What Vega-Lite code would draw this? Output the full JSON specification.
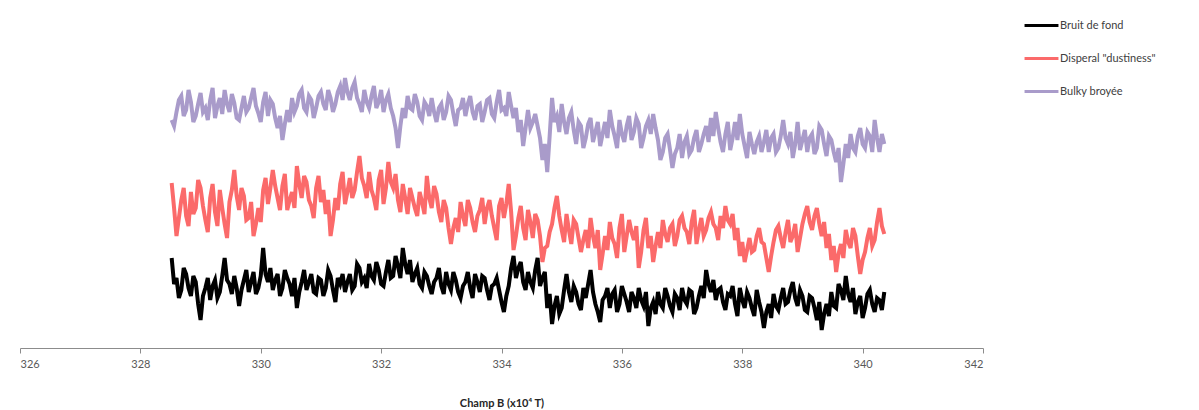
{
"$schema": "https://vega.github.io/schema/vega-lite/v6.json",
"width": 963, "height": 348,
"autosize": {"type": "none"},
"padding": {"left": 20, "top": 0, "right": 216, "bottom": 62},
"background": "white",
"config": {"view": {"stroke": null}, "font": "Lato"},
"datasets": {
"bruit": [
{"x":328.52,"y":90},{"x":328.56,"y":64},{"x":328.6,"y":70},{"x":328.64,"y":50},{"x":328.68,"y":58},{"x":328.72,"y":80},{"x":328.76,"y":74},{"x":328.8,"y":60},{"x":328.84,"y":52},{"x":328.88,"y":72},
{"x":328.92,"y":66},{"x":328.96,"y":44},{"x":329,"y":28},{"x":329.04,"y":52},{"x":329.08,"y":60},{"x":329.12,"y":70},{"x":329.16,"y":48},{"x":329.2,"y":62},{"x":329.24,"y":68},{"x":329.28,"y":50},
{"x":329.32,"y":56},{"x":329.36,"y":72},{"x":329.4,"y":90},{"x":329.44,"y":68},{"x":329.48,"y":64},{"x":329.52,"y":54},{"x":329.56,"y":72},{"x":329.6,"y":60},{"x":329.64,"y":42},{"x":329.68,"y":58},
{"x":329.72,"y":68},{"x":329.76,"y":78},{"x":329.8,"y":56},{"x":329.84,"y":66},{"x":329.88,"y":76},{"x":329.92,"y":54},{"x":329.96,"y":60},{"x":330,"y":72},{"x":330.04,"y":100},{"x":330.08,"y":74},
{"x":330.12,"y":66},{"x":330.16,"y":80},{"x":330.2,"y":58},{"x":330.24,"y":68},{"x":330.28,"y":74},{"x":330.32,"y":52},{"x":330.36,"y":60},{"x":330.4,"y":78},{"x":330.44,"y":70},{"x":330.48,"y":64},
{"x":330.52,"y":52},{"x":330.56,"y":70},{"x":330.6,"y":40},{"x":330.64,"y":56},{"x":330.68,"y":66},{"x":330.72,"y":78},{"x":330.76,"y":58},{"x":330.8,"y":66},{"x":330.84,"y":74},{"x":330.88,"y":56},
{"x":330.92,"y":54},{"x":330.96,"y":70},{"x":331,"y":68},{"x":331.04,"y":52},{"x":331.08,"y":60},{"x":331.12,"y":78},{"x":331.16,"y":72},{"x":331.2,"y":58},{"x":331.24,"y":46},{"x":331.28,"y":70},
{"x":331.32,"y":64},{"x":331.36,"y":74},{"x":331.4,"y":56},{"x":331.44,"y":66},{"x":331.48,"y":74},{"x":331.52,"y":58},{"x":331.56,"y":62},{"x":331.6,"y":84},{"x":331.64,"y":80},{"x":331.68,"y":66},
{"x":331.72,"y":70},{"x":331.76,"y":60},{"x":331.8,"y":84},{"x":331.84,"y":72},{"x":331.88,"y":68},{"x":331.92,"y":86},{"x":331.96,"y":78},{"x":332,"y":64},{"x":332.04,"y":62},{"x":332.08,"y":76},
{"x":332.12,"y":88},{"x":332.16,"y":70},{"x":332.2,"y":72},{"x":332.24,"y":92},{"x":332.28,"y":82},{"x":332.32,"y":70},{"x":332.36,"y":100},{"x":332.4,"y":84},{"x":332.44,"y":74},{"x":332.48,"y":88},
{"x":332.52,"y":66},{"x":332.56,"y":74},{"x":332.6,"y":80},{"x":332.64,"y":64},{"x":332.68,"y":60},{"x":332.72,"y":76},{"x":332.76,"y":72},{"x":332.8,"y":62},{"x":332.84,"y":54},{"x":332.88,"y":66},
{"x":332.92,"y":70},{"x":332.96,"y":80},{"x":333,"y":62},{"x":333.04,"y":54},{"x":333.08,"y":76},{"x":333.12,"y":64},{"x":333.16,"y":58},{"x":333.2,"y":76},{"x":333.24,"y":68},{"x":333.28,"y":56},
{"x":333.32,"y":50},{"x":333.36,"y":62},{"x":333.4,"y":66},{"x":333.44,"y":76},{"x":333.48,"y":60},{"x":333.52,"y":50},{"x":333.56,"y":74},{"x":333.6,"y":66},{"x":333.64,"y":56},{"x":333.68,"y":72},
{"x":333.72,"y":70},{"x":333.76,"y":58},{"x":333.8,"y":48},{"x":333.84,"y":62},{"x":333.88,"y":64},{"x":333.92,"y":70},{"x":333.96,"y":58},{"x":334,"y":46},{"x":334.04,"y":36},{"x":334.08,"y":52},
{"x":334.12,"y":62},{"x":334.16,"y":80},{"x":334.2,"y":92},{"x":334.24,"y":70},{"x":334.28,"y":80},{"x":334.32,"y":86},{"x":334.36,"y":66},{"x":334.4,"y":58},{"x":334.44,"y":76},{"x":334.48,"y":66},
{"x":334.52,"y":60},{"x":334.56,"y":78},{"x":334.6,"y":90},{"x":334.64,"y":62},{"x":334.68,"y":70},{"x":334.72,"y":76},{"x":334.76,"y":40},{"x":334.8,"y":54},{"x":334.84,"y":24},{"x":334.88,"y":42},
{"x":334.92,"y":52},{"x":334.96,"y":34},{"x":335,"y":40},{"x":335.04,"y":58},{"x":335.08,"y":74},{"x":335.12,"y":56},{"x":335.16,"y":46},{"x":335.2,"y":62},{"x":335.24,"y":56},{"x":335.28,"y":44},
{"x":335.32,"y":38},{"x":335.36,"y":60},{"x":335.4,"y":50},{"x":335.44,"y":64},{"x":335.48,"y":78},{"x":335.52,"y":56},{"x":335.56,"y":44},{"x":335.6,"y":36},{"x":335.64,"y":26},{"x":335.68,"y":48},
{"x":335.72,"y":52},{"x":335.76,"y":60},{"x":335.8,"y":40},{"x":335.84,"y":54},{"x":335.88,"y":58},{"x":335.92,"y":36},{"x":335.96,"y":44},{"x":336,"y":62},{"x":336.04,"y":54},{"x":336.08,"y":46},
{"x":336.12,"y":36},{"x":336.16,"y":56},{"x":336.2,"y":50},{"x":336.24,"y":40},{"x":336.28,"y":60},{"x":336.32,"y":48},{"x":336.36,"y":42},{"x":336.4,"y":56},{"x":336.44,"y":22},{"x":336.48,"y":40},
{"x":336.52,"y":46},{"x":336.56,"y":34},{"x":336.6,"y":56},{"x":336.64,"y":44},{"x":336.68,"y":40},{"x":336.72,"y":60},{"x":336.76,"y":52},{"x":336.8,"y":42},{"x":336.84,"y":36},{"x":336.88,"y":54},
{"x":336.92,"y":50},{"x":336.96,"y":38},{"x":337,"y":60},{"x":337.04,"y":48},{"x":337.08,"y":44},{"x":337.12,"y":58},{"x":337.16,"y":56},{"x":337.2,"y":34},{"x":337.24,"y":40},{"x":337.28,"y":52},
{"x":337.32,"y":62},{"x":337.36,"y":50},{"x":337.4,"y":78},{"x":337.44,"y":64},{"x":337.48,"y":56},{"x":337.52,"y":68},{"x":337.56,"y":48},{"x":337.6,"y":58},{"x":337.64,"y":60},{"x":337.68,"y":46},
{"x":337.72,"y":38},{"x":337.76,"y":54},{"x":337.8,"y":52},{"x":337.84,"y":62},{"x":337.88,"y":44},{"x":337.92,"y":32},{"x":337.96,"y":60},{"x":338,"y":48},{"x":338.04,"y":40},{"x":338.08,"y":56},
{"x":338.12,"y":50},{"x":338.16,"y":40},{"x":338.2,"y":32},{"x":338.24,"y":58},{"x":338.28,"y":46},{"x":338.32,"y":36},{"x":338.36,"y":20},{"x":338.4,"y":36},{"x":338.44,"y":44},{"x":338.48,"y":30},
{"x":338.52,"y":54},{"x":338.56,"y":42},{"x":338.6,"y":38},{"x":338.64,"y":50},{"x":338.68,"y":60},{"x":338.72,"y":44},{"x":338.76,"y":46},{"x":338.8,"y":58},{"x":338.84,"y":66},{"x":338.88,"y":50},
{"x":338.92,"y":42},{"x":338.96,"y":58},{"x":339,"y":52},{"x":339.04,"y":38},{"x":339.08,"y":36},{"x":339.12,"y":52},{"x":339.16,"y":50},{"x":339.2,"y":40},{"x":339.24,"y":28},{"x":339.28,"y":46},
{"x":339.32,"y":18},{"x":339.36,"y":34},{"x":339.4,"y":44},{"x":339.44,"y":32},{"x":339.48,"y":56},{"x":339.52,"y":42},{"x":339.56,"y":40},{"x":339.6,"y":64},{"x":339.64,"y":58},{"x":339.68,"y":48},
{"x":339.72,"y":72},{"x":339.76,"y":54},{"x":339.8,"y":46},{"x":339.84,"y":60},{"x":339.88,"y":34},{"x":339.92,"y":46},{"x":339.96,"y":52},{"x":340,"y":30},{"x":340.04,"y":40},{"x":340.08,"y":54},
{"x":340.12,"y":58},{"x":340.16,"y":44},{"x":340.2,"y":36},{"x":340.24,"y":50},{"x":340.28,"y":48},{"x":340.32,"y":38},{"x":340.36,"y":56}
],
"disperal": [
{"x":328.52,"y":165},{"x":328.56,"y":140},{"x":328.6,"y":112},{"x":328.64,"y":130},{"x":328.68,"y":148},{"x":328.72,"y":160},{"x":328.76,"y":132},{"x":328.8,"y":122},{"x":328.84,"y":156},{"x":328.88,"y":134},
{"x":328.92,"y":140},{"x":328.96,"y":168},{"x":329,"y":160},{"x":329.04,"y":142},{"x":329.08,"y":128},{"x":329.12,"y":116},{"x":329.16,"y":150},{"x":329.2,"y":164},{"x":329.24,"y":136},{"x":329.28,"y":122},
{"x":329.32,"y":158},{"x":329.36,"y":140},{"x":329.4,"y":124},{"x":329.44,"y":110},{"x":329.48,"y":146},{"x":329.52,"y":158},{"x":329.56,"y":178},{"x":329.6,"y":152},{"x":329.64,"y":138},{"x":329.68,"y":160},
{"x":329.72,"y":152},{"x":329.76,"y":128},{"x":329.8,"y":130},{"x":329.84,"y":146},{"x":329.88,"y":112},{"x":329.92,"y":124},{"x":329.96,"y":140},{"x":330,"y":126},{"x":330.04,"y":158},{"x":330.08,"y":170},
{"x":330.12,"y":144},{"x":330.16,"y":160},{"x":330.2,"y":178},{"x":330.24,"y":162},{"x":330.28,"y":150},{"x":330.32,"y":138},{"x":330.36,"y":162},{"x":330.4,"y":174},{"x":330.44,"y":138},{"x":330.48,"y":148},
{"x":330.52,"y":156},{"x":330.56,"y":140},{"x":330.6,"y":182},{"x":330.64,"y":164},{"x":330.68,"y":150},{"x":330.72,"y":172},{"x":330.76,"y":166},{"x":330.8,"y":148},{"x":330.84,"y":142},{"x":330.88,"y":130},
{"x":330.92,"y":160},{"x":330.96,"y":172},{"x":331,"y":146},{"x":331.04,"y":158},{"x":331.08,"y":134},{"x":331.12,"y":148},{"x":331.16,"y":112},{"x":331.2,"y":128},{"x":331.24,"y":150},{"x":331.28,"y":138},
{"x":331.32,"y":164},{"x":331.36,"y":176},{"x":331.4,"y":144},{"x":331.44,"y":156},{"x":331.48,"y":170},{"x":331.52,"y":150},{"x":331.56,"y":158},{"x":331.6,"y":176},{"x":331.64,"y":192},{"x":331.68,"y":170},
{"x":331.72,"y":162},{"x":331.76,"y":150},{"x":331.8,"y":176},{"x":331.84,"y":158},{"x":331.88,"y":150},{"x":331.92,"y":138},{"x":331.96,"y":168},{"x":332,"y":178},{"x":332.04,"y":144},{"x":332.08,"y":160},
{"x":332.12,"y":186},{"x":332.16,"y":166},{"x":332.2,"y":160},{"x":332.24,"y":174},{"x":332.28,"y":148},{"x":332.32,"y":136},{"x":332.36,"y":164},{"x":332.4,"y":150},{"x":332.44,"y":134},{"x":332.48,"y":160},
{"x":332.52,"y":150},{"x":332.56,"y":140},{"x":332.6,"y":132},{"x":332.64,"y":156},{"x":332.68,"y":146},{"x":332.72,"y":134},{"x":332.76,"y":172},{"x":332.8,"y":150},{"x":332.84,"y":140},{"x":332.88,"y":162},
{"x":332.92,"y":154},{"x":332.96,"y":136},{"x":333,"y":126},{"x":333.04,"y":148},{"x":333.08,"y":140},{"x":333.12,"y":120},{"x":333.16,"y":104},{"x":333.2,"y":120},{"x":333.24,"y":130},{"x":333.28,"y":116},
{"x":333.32,"y":146},{"x":333.36,"y":132},{"x":333.4,"y":122},{"x":333.44,"y":148},{"x":333.48,"y":140},{"x":333.52,"y":126},{"x":333.56,"y":116},{"x":333.6,"y":132},{"x":333.64,"y":138},{"x":333.68,"y":150},
{"x":333.72,"y":124},{"x":333.76,"y":140},{"x":333.8,"y":148},{"x":333.84,"y":132},{"x":333.88,"y":120},{"x":333.92,"y":108},{"x":333.96,"y":142},{"x":334,"y":150},{"x":334.04,"y":130},{"x":334.08,"y":144},
{"x":334.12,"y":164},{"x":334.16,"y":136},{"x":334.2,"y":98},{"x":334.24,"y":112},{"x":334.28,"y":130},{"x":334.32,"y":142},{"x":334.36,"y":120},{"x":334.4,"y":108},{"x":334.44,"y":138},{"x":334.48,"y":126},
{"x":334.52,"y":110},{"x":334.56,"y":134},{"x":334.6,"y":128},{"x":334.64,"y":112},{"x":334.68,"y":86},{"x":334.72,"y":100},{"x":334.76,"y":102},{"x":334.8,"y":116},{"x":334.84,"y":124},{"x":334.88,"y":140},
{"x":334.92,"y":152},{"x":334.96,"y":132},{"x":335,"y":118},{"x":335.04,"y":106},{"x":335.08,"y":134},{"x":335.12,"y":118},{"x":335.16,"y":104},{"x":335.2,"y":128},{"x":335.24,"y":124},{"x":335.28,"y":110},
{"x":335.32,"y":96},{"x":335.36,"y":108},{"x":335.4,"y":118},{"x":335.44,"y":100},{"x":335.48,"y":130},{"x":335.52,"y":112},{"x":335.56,"y":100},{"x":335.6,"y":118},{"x":335.64,"y":78},{"x":335.68,"y":94},
{"x":335.72,"y":112},{"x":335.76,"y":98},{"x":335.8,"y":126},{"x":335.84,"y":110},{"x":335.88,"y":104},{"x":335.92,"y":90},{"x":335.96,"y":120},{"x":336,"y":134},{"x":336.04,"y":96},{"x":336.08,"y":112},
{"x":336.12,"y":128},{"x":336.16,"y":116},{"x":336.2,"y":108},{"x":336.24,"y":122},{"x":336.28,"y":80},{"x":336.32,"y":96},{"x":336.36,"y":118},{"x":336.4,"y":130},{"x":336.44,"y":100},{"x":336.48,"y":112},
{"x":336.52,"y":86},{"x":336.56,"y":102},{"x":336.6,"y":116},{"x":336.64,"y":100},{"x":336.68,"y":128},{"x":336.72,"y":114},{"x":336.76,"y":106},{"x":336.8,"y":120},{"x":336.84,"y":124},{"x":336.88,"y":102},
{"x":336.92,"y":112},{"x":336.96,"y":128},{"x":337,"y":132},{"x":337.04,"y":120},{"x":337.08,"y":116},{"x":337.12,"y":104},{"x":337.16,"y":126},{"x":337.2,"y":138},{"x":337.24,"y":104},{"x":337.28,"y":118},
{"x":337.32,"y":130},{"x":337.36,"y":112},{"x":337.4,"y":118},{"x":337.44,"y":130},{"x":337.48,"y":136},{"x":337.52,"y":124},{"x":337.56,"y":120},{"x":337.6,"y":108},{"x":337.64,"y":132},{"x":337.68,"y":120},
{"x":337.72,"y":142},{"x":337.76,"y":128},{"x":337.8,"y":124},{"x":337.84,"y":134},{"x":337.88,"y":108},{"x":337.92,"y":120},{"x":337.96,"y":92},{"x":338,"y":106},{"x":338.04,"y":86},{"x":338.08,"y":98},
{"x":338.12,"y":110},{"x":338.16,"y":96},{"x":338.2,"y":98},{"x":338.24,"y":112},{"x":338.28,"y":120},{"x":338.32,"y":106},{"x":338.36,"y":104},{"x":338.4,"y":90},{"x":338.44,"y":76},{"x":338.48,"y":92},
{"x":338.52,"y":106},{"x":338.56,"y":118},{"x":338.6,"y":122},{"x":338.64,"y":110},{"x":338.68,"y":100},{"x":338.72,"y":116},{"x":338.76,"y":128},{"x":338.8,"y":106},{"x":338.84,"y":112},{"x":338.88,"y":124},
{"x":338.92,"y":96},{"x":338.96,"y":110},{"x":339,"y":124},{"x":339.04,"y":134},{"x":339.08,"y":142},{"x":339.12,"y":126},{"x":339.16,"y":118},{"x":339.2,"y":132},{"x":339.24,"y":140},{"x":339.28,"y":124},
{"x":339.32,"y":112},{"x":339.36,"y":126},{"x":339.4,"y":100},{"x":339.44,"y":114},{"x":339.48,"y":88},{"x":339.52,"y":102},{"x":339.56,"y":76},{"x":339.6,"y":94},{"x":339.64,"y":104},{"x":339.68,"y":90},
{"x":339.72,"y":118},{"x":339.76,"y":106},{"x":339.8,"y":100},{"x":339.84,"y":120},{"x":339.88,"y":112},{"x":339.92,"y":92},{"x":339.96,"y":74},{"x":340,"y":88},{"x":340.04,"y":96},{"x":340.08,"y":110},
{"x":340.12,"y":120},{"x":340.16,"y":102},{"x":340.2,"y":108},{"x":340.24,"y":126},{"x":340.28,"y":140},{"x":340.32,"y":122},{"x":340.36,"y":114}
],
"bulky": [
{"x":328.52,"y":228},{"x":328.56,"y":222},{"x":328.6,"y":236},{"x":328.64,"y":248},{"x":328.68,"y":252},{"x":328.72,"y":232},{"x":328.76,"y":238},{"x":328.8,"y":258},{"x":328.84,"y":246},{"x":328.88,"y":226},
{"x":328.92,"y":232},{"x":328.96,"y":244},{"x":329,"y":255},{"x":329.04,"y":236},{"x":329.08,"y":240},{"x":329.12,"y":228},{"x":329.16,"y":248},{"x":329.2,"y":260},{"x":329.24,"y":230},{"x":329.28,"y":242},
{"x":329.32,"y":250},{"x":329.36,"y":234},{"x":329.4,"y":258},{"x":329.44,"y":244},{"x":329.48,"y":236},{"x":329.52,"y":254},{"x":329.56,"y":245},{"x":329.6,"y":230},{"x":329.64,"y":228},{"x":329.68,"y":240},
{"x":329.72,"y":252},{"x":329.76,"y":236},{"x":329.8,"y":240},{"x":329.84,"y":250},{"x":329.88,"y":260},{"x":329.92,"y":242},{"x":329.96,"y":235},{"x":330,"y":226},{"x":330.04,"y":246},{"x":330.08,"y":256},
{"x":330.12,"y":232},{"x":330.16,"y":248},{"x":330.2,"y":244},{"x":330.24,"y":230},{"x":330.28,"y":220},{"x":330.32,"y":232},{"x":330.36,"y":208},{"x":330.4,"y":224},{"x":330.44,"y":238},{"x":330.48,"y":226},
{"x":330.52,"y":250},{"x":330.56,"y":236},{"x":330.6,"y":242},{"x":330.64,"y":254},{"x":330.68,"y":258},{"x":330.72,"y":240},{"x":330.76,"y":236},{"x":330.8,"y":252},{"x":330.84,"y":248},{"x":330.88,"y":230},
{"x":330.92,"y":240},{"x":330.96,"y":252},{"x":331,"y":256},{"x":331.04,"y":244},{"x":331.08,"y":238},{"x":331.12,"y":258},{"x":331.16,"y":250},{"x":331.2,"y":236},{"x":331.24,"y":244},{"x":331.28,"y":256},
{"x":331.32,"y":262},{"x":331.36,"y":248},{"x":331.4,"y":270},{"x":331.44,"y":256},{"x":331.48,"y":248},{"x":331.52,"y":260},{"x":331.56,"y":266},{"x":331.6,"y":250},{"x":331.64,"y":244},{"x":331.68,"y":236},
{"x":331.72,"y":258},{"x":331.76,"y":246},{"x":331.8,"y":240},{"x":331.84,"y":252},{"x":331.88,"y":262},{"x":331.92,"y":240},{"x":331.96,"y":246},{"x":332,"y":258},{"x":332.04,"y":236},{"x":332.08,"y":248},
{"x":332.12,"y":254},{"x":332.16,"y":240},{"x":332.2,"y":232},{"x":332.24,"y":220},{"x":332.28,"y":200},{"x":332.32,"y":222},{"x":332.36,"y":240},{"x":332.4,"y":230},{"x":332.44,"y":252},{"x":332.48,"y":240},
{"x":332.52,"y":238},{"x":332.56,"y":254},{"x":332.6,"y":246},{"x":332.64,"y":232},{"x":332.68,"y":228},{"x":332.72,"y":246},{"x":332.76,"y":242},{"x":332.8,"y":232},{"x":332.84,"y":250},{"x":332.88,"y":236},
{"x":332.92,"y":226},{"x":332.96,"y":240},{"x":333,"y":244},{"x":333.04,"y":228},{"x":333.08,"y":236},{"x":333.12,"y":252},{"x":333.16,"y":248},{"x":333.2,"y":234},{"x":333.24,"y":222},{"x":333.28,"y":238},
{"x":333.32,"y":240},{"x":333.36,"y":250},{"x":333.4,"y":232},{"x":333.44,"y":244},{"x":333.48,"y":252},{"x":333.52,"y":236},{"x":333.56,"y":228},{"x":333.6,"y":242},{"x":333.64,"y":244},{"x":333.68,"y":226},
{"x":333.72,"y":236},{"x":333.76,"y":248},{"x":333.8,"y":250},{"x":333.84,"y":234},{"x":333.88,"y":230},{"x":333.92,"y":246},{"x":333.96,"y":258},{"x":334,"y":238},{"x":334.04,"y":240},{"x":334.08,"y":232},
{"x":334.12,"y":256},{"x":334.16,"y":242},{"x":334.2,"y":230},{"x":334.24,"y":240},{"x":334.28,"y":216},{"x":334.32,"y":228},{"x":334.36,"y":202},{"x":334.4,"y":220},{"x":334.44,"y":238},{"x":334.48,"y":220},
{"x":334.52,"y":226},{"x":334.56,"y":234},{"x":334.6,"y":222},{"x":334.64,"y":210},{"x":334.68,"y":188},{"x":334.72,"y":204},{"x":334.76,"y":176},{"x":334.8,"y":212},{"x":334.84,"y":250},{"x":334.88,"y":226},
{"x":334.92,"y":232},{"x":334.96,"y":216},{"x":335,"y":244},{"x":335.04,"y":226},{"x":335.08,"y":214},{"x":335.12,"y":230},{"x":335.16,"y":236},{"x":335.2,"y":218},{"x":335.24,"y":204},{"x":335.28,"y":226},
{"x":335.32,"y":222},{"x":335.36,"y":200},{"x":335.4,"y":210},{"x":335.44,"y":224},{"x":335.48,"y":230},{"x":335.52,"y":206},{"x":335.56,"y":216},{"x":335.6,"y":226},{"x":335.64,"y":202},{"x":335.68,"y":214},
{"x":335.72,"y":226},{"x":335.76,"y":210},{"x":335.8,"y":238},{"x":335.84,"y":222},{"x":335.88,"y":212},{"x":335.92,"y":200},{"x":335.96,"y":228},{"x":336,"y":214},{"x":336.04,"y":206},{"x":336.08,"y":222},
{"x":336.12,"y":232},{"x":336.16,"y":208},{"x":336.2,"y":216},{"x":336.24,"y":230},{"x":336.28,"y":224},{"x":336.32,"y":200},{"x":336.36,"y":210},{"x":336.4,"y":222},{"x":336.44,"y":228},{"x":336.48,"y":214},
{"x":336.52,"y":234},{"x":336.56,"y":220},{"x":336.6,"y":208},{"x":336.64,"y":188},{"x":336.68,"y":196},{"x":336.72,"y":210},{"x":336.76,"y":214},{"x":336.8,"y":198},{"x":336.84,"y":180},{"x":336.88,"y":194},
{"x":336.92,"y":200},{"x":336.96,"y":214},{"x":337,"y":190},{"x":337.04,"y":206},{"x":337.08,"y":212},{"x":337.12,"y":194},{"x":337.16,"y":198},{"x":337.2,"y":210},{"x":337.24,"y":218},{"x":337.28,"y":196},
{"x":337.32,"y":204},{"x":337.36,"y":214},{"x":337.4,"y":222},{"x":337.44,"y":206},{"x":337.48,"y":230},{"x":337.52,"y":212},{"x":337.56,"y":236},{"x":337.6,"y":220},{"x":337.64,"y":206},{"x":337.68,"y":196},
{"x":337.72,"y":214},{"x":337.76,"y":226},{"x":337.8,"y":198},{"x":337.84,"y":210},{"x":337.88,"y":226},{"x":337.92,"y":208},{"x":337.96,"y":234},{"x":338,"y":214},{"x":338.04,"y":202},{"x":338.08,"y":190},
{"x":338.12,"y":216},{"x":338.16,"y":204},{"x":338.2,"y":194},{"x":338.24,"y":206},{"x":338.28,"y":212},{"x":338.32,"y":196},{"x":338.36,"y":206},{"x":338.4,"y":218},{"x":338.44,"y":196},{"x":338.48,"y":210},
{"x":338.52,"y":214},{"x":338.56,"y":196},{"x":338.6,"y":200},{"x":338.64,"y":212},{"x":338.68,"y":228},{"x":338.72,"y":210},{"x":338.76,"y":204},{"x":338.8,"y":216},{"x":338.84,"y":190},{"x":338.88,"y":204},
{"x":338.92,"y":226},{"x":338.96,"y":198},{"x":339,"y":208},{"x":339.04,"y":218},{"x":339.08,"y":196},{"x":339.12,"y":210},{"x":339.16,"y":214},{"x":339.2,"y":194},{"x":339.24,"y":200},{"x":339.28,"y":222},
{"x":339.32,"y":218},{"x":339.36,"y":204},{"x":339.4,"y":192},{"x":339.44,"y":212},{"x":339.48,"y":208},{"x":339.52,"y":196},{"x":339.56,"y":186},{"x":339.6,"y":200},{"x":339.64,"y":166},{"x":339.68,"y":184},
{"x":339.72,"y":204},{"x":339.76,"y":190},{"x":339.8,"y":214},{"x":339.84,"y":200},{"x":339.88,"y":196},{"x":339.92,"y":212},{"x":339.96,"y":220},{"x":340,"y":204},{"x":340.04,"y":200},{"x":340.08,"y":216},
{"x":340.12,"y":212},{"x":340.16,"y":196},{"x":340.2,"y":228},{"x":340.24,"y":210},{"x":340.28,"y":196},{"x":340.32,"y":214},{"x":340.36,"y":204}
]
},
"encoding": {
"x": {"field": "x", "type": "quantitative",
 "scale": {"domain": [326, 342], "nice": false, "zero": false},
 "axis": {"title": "Champ B (x10⁴ T)", "values": [326, 328, 330, 332, 334, 336, 338, 340, 342], "grid": false,
  "domainColor": "#8c8c8c", "tickColor": "#8c8c8c", "tickSize": 5, "labelColor": "#595959", "labelFontSize": 11, "labelPadding": 5,
  "labelFont": "Lato", "titleFont": "Lato", "titleFontSize": 11, "titleFontWeight": "bold", "titleColor": "#262626", "titlePadding": 28}},
"y": {"field": "y", "type": "quantitative", "scale": {"domain": [0, 348], "nice": false, "zero": false}, "axis": null}
},
"layer": [
{"data": {"name": "bruit"}, "mark": {"type": "line", "strokeWidth": 4},
 "encoding": {"color": {"datum": "Bruit de fond", "type": "nominal",
  "scale": {"domain": ["Bruit de fond", "Disperal \"dustiness\"", "Bulky broyée"], "range": ["#000000", "#fb6a6a", "#a99bca"]},
  "legend": {"orient": "none", "legendX": 1003, "legendY": 7, "title": null, "symbolType": "stroke", "symbolSize": 1150, "symbolStrokeWidth": 3,
   "labelFontSize": 11, "labelColor": "#404040", "labelFont": "Lato", "rowPadding": 8, "labelOffset": 0, "padding": 0}}}},
{"data": {"name": "disperal"}, "mark": {"type": "line", "strokeWidth": 4},
 "encoding": {"color": {"datum": "Disperal \"dustiness\"", "type": "nominal"}}},
{"data": {"name": "bulky"}, "mark": {"type": "line", "strokeWidth": 4},
 "encoding": {"color": {"datum": "Bulky broyée", "type": "nominal"}}}
]
}
